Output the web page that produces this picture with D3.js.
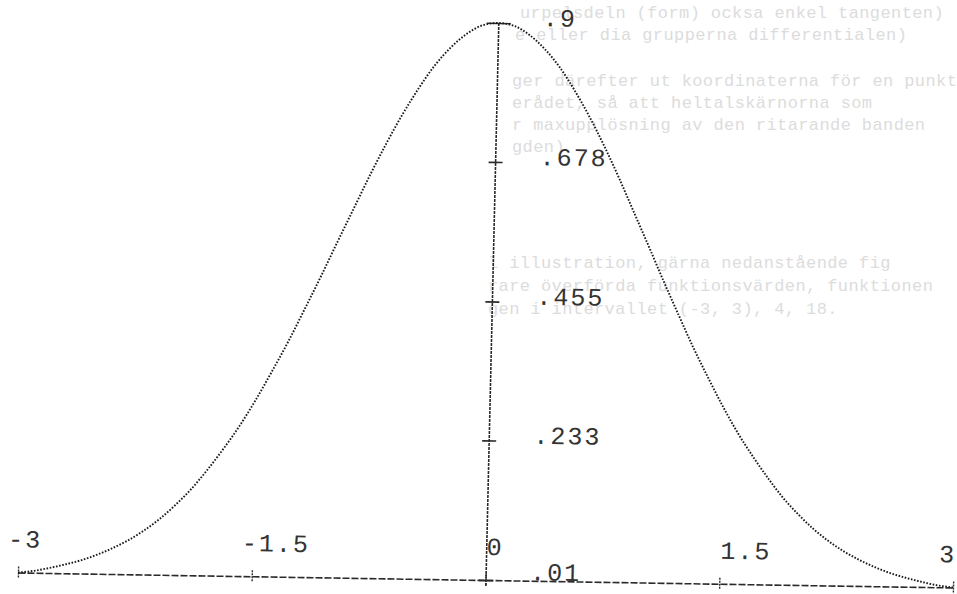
<!DOCTYPE html>
<html>
<head>
<meta charset="utf-8">
<script src="https://cdn.jsdelivr.net/npm/d3@7/dist/d3.min.js"></script>
<style>
	body { margin: 0; background: #fff; }
	svg { display: block; }
	.ghost { font-family: "Liberation Mono", "DejaVu Sans Mono", monospace; font-size: 17px; letter-spacing: 0.4px; fill: #dcdcdc; }
	.lbl { font-family: "Liberation Mono", "DejaVu Sans Mono", monospace; font-size: 25px; letter-spacing: 2px; fill: #333; }
</style>
</head>
<body>
<svg id="chart" width="957" height="594"></svg>
<script>

//DATA

var xValues = [-3, -2.9, -2.8, -2.7, -2.6, -2.5, -2.4, -2.3, -2.2, -2.1,
	-2, -1.9, -1.8, -1.7, -1.6, -1.5, -1.4, -1.3, -1.2, -1.1,
	-1, -0.9, -0.8, -0.7, -0.6, -0.5, -0.4, -0.3, -0.2, -0.1,
	0, 0.1, 0.2, 0.3, 0.4, 0.5, 0.6, 0.7, 0.8, 0.9,
	1, 1.1, 1.2, 1.3, 1.4, 1.5, 1.6, 1.7, 1.8, 1.9,
	2, 2.1, 2.2, 2.3, 2.4, 2.5, 2.6, 2.7, 2.8, 2.9, 3];

var yValues = [.010, .013, .018, .024, .031, .040, .051, .064, .080, .099,
	.122, .148, .179, .213, .250, .292, .338, .386, .438, .491,
	.546, .600, .654, .705, .752, .794, .831, .860, .882, .896,
	.900, .896, .882, .860, .831, .794, .752, .705, .654, .600,
	.546, .491, .438, .386, .338, .292, .250, .213, .179, .148,
	.122, .099, .080, .064, .051, .040, .031, .024, .018, .013, .010];

var xTicks = [-3, -1.5, 0, 1.5, 3];
var xTickLabels = ["-3", "-1.5", "0", "1.5", "3"];

var yTicks = [.01, .233, .455, .678, .9];
var yTickLabels = [".01", ".233", ".455", ".678", ".9"];

//faint text showing through from the other side of the paper
var ghostLines = [
	"urpelsdeln (form) ocksa enkel tangenten)",
	"e eller dia grupperna differentialen)",
	"ger därefter ut koordinaterna för en punkt",
	"erådet, så att heltalskärnorna som",
	"r maxupplösning av den ritarande banden",
	"gden)",
	"l illustration, gärna nedanstående fig",
	"rare överförda funktionsvärden, funktionen",
	"gen i intervallet (-3, 3), 4, 18."
];

var points = xValues.map((x, i) => [x, yValues[i]]);

var svg = d3.select("#chart");

//GHOST TEXT

var ghostPos = [[520, 18], [515, 40], [512, 86], [512, 108], [512, 130], [512, 152],
	[488, 268], [488, 291], [488, 314]];

svg.selectAll("text.ghost")
	.data(ghostLines)
	.enter()
	.append("text")
	.attr("class", "ghost")
	.attr("x", (d, i) => ghostPos[i][0])
	.attr("y", (d, i) => ghostPos[i][1])
	.text(d => d);

//LAYOUT - origin is where the axes cross, paper is scanned slightly skewed

var g = svg.append("g")
	.attr("transform", "matrix(1,0.016,-0.023,1,486,580)");

var xScale = d3.scaleLinear()
	.domain([-3, 3])
	.range([-468, 467]);

var yScale = d3.scaleLinear()
	.domain([.01, .9])
	.range([0, -557]);

//x axis
var xAxis = d3.axisBottom(xScale)
	.tickValues(xTicks)
	.tickFormat((d, i) => xTickLabels[i])
	.tickSizeOuter(0);

var gx = g.append("g")
	.attr("class", "xAxis")
	.call(xAxis);

gx.select(".domain")
	.attr("stroke", "#2a2a2a")
	.attr("stroke-width", 1.6)
	.attr("stroke-dasharray", "7 2");

gx.selectAll(".tick line")
	.attr("y1", -6)
	.attr("y2", 6)
	.attr("stroke", "#2a2a2a")
	.attr("stroke-width", 1.4)
	.attr("stroke-dasharray", "2 1");

gx.selectAll(".tick text")
	.attr("class", "lbl")
	.attr("fill", null)
	.attr("font-size", null)
	.attr("font-family", null)
	.attr("text-anchor", d => d === 3 ? "end" : "start")
	.attr("x", d => d < 0 ? -11 : (d === 3 ? 2 : 0))
	.attr("y", -25)
	.attr("dy", 0);

//y axis
var yAxis = d3.axisLeft(yScale)
	.tickValues(yTicks)
	.tickFormat((d, i) => yTickLabels[i])
	.tickSizeOuter(0);

var gy = g.append("g")
	.attr("class", "yAxis")
	.call(yAxis);

gy.select(".domain").remove();

gy.append("line")
	.attr("x1", 0)
	.attr("x2", 0)
	.attr("y1", yScale(.9))
	.attr("y2", 6)
	.attr("stroke", "#2a2a2a")
	.attr("stroke-width", 1.6)
	.attr("stroke-dasharray", "3 1");

gy.selectAll(".tick line")
	.attr("x1", d => d === .9 ? -12 : -7)
	.attr("x2", d => d === .9 ? 12 : 7)
	.attr("stroke", "#2a2a2a")
	.attr("stroke-width", 1.6);

gy.selectAll(".tick text")
	.attr("class", "lbl")
	.attr("fill", null)
	.attr("font-size", null)
	.attr("font-family", null)
	.attr("text-anchor", "start")
	.attr("x", 44)
	.attr("y", d => d === .01 ? -1 : 2)
	.attr("dy", 0);

//the curve
var line = d3.line()
	.x(d => xScale(d[0]))
	.y(d => yScale(d[1]))
	.curve(d3.curveMonotoneX);

g.append("path")
	.datum(points)
	.attr("fill", "none")
	.attr("stroke", "#1a1a1a")
	.attr("stroke-width", 1.9)
	.attr("stroke-dasharray", "1.6 1.6")
	.attr("d", line);

</script>
</body>
</html>
